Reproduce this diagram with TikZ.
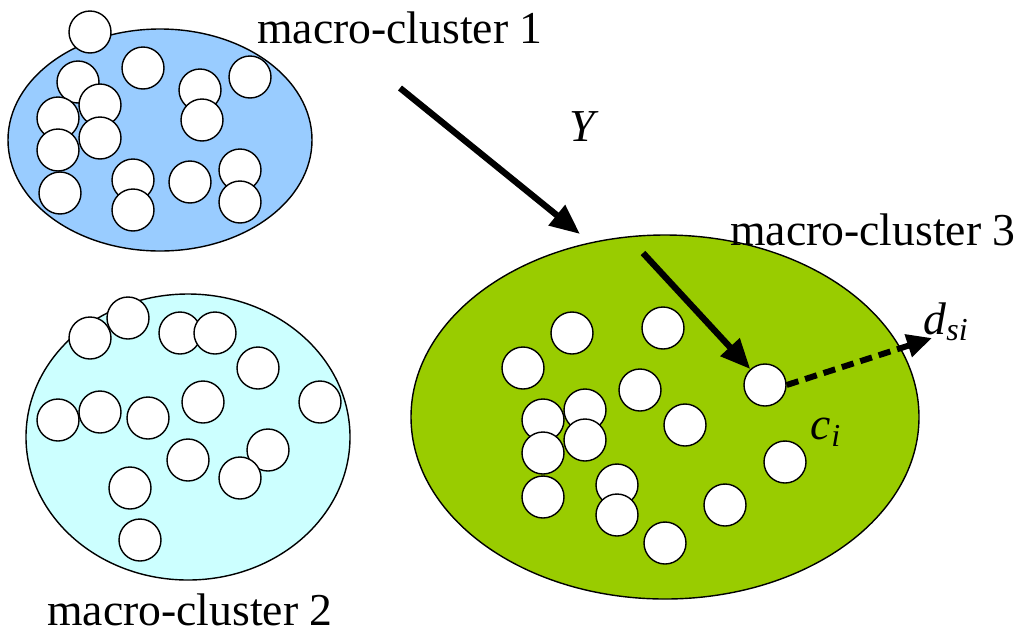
\documentclass[tikz,border=0pt]{standalone}
\usepackage{fontspec}
\setmainfont{Liberation Serif}
\usetikzlibrary{arrows.meta}
\begin{document}
\begin{tikzpicture}[x=0.02cm,y=-0.02cm,
  pt/.style={circle,draw=black,fill=white,line width=0.8pt,minimum size=0.84cm,inner sep=0pt},
  cl/.style={draw=black,line width=0.8pt},
  lbl/.style={font=\fontsize{26}{30}\selectfont,inner sep=0pt},
  big/.style={line width=3.6pt,-{Triangle[length=0.6cm,width=0.5cm]}}]
\useasboundingbox (0,0) rectangle (1024,637);
\definecolor{c1}{RGB}{153,204,255}
\definecolor{c2}{RGB}{204,255,255}
\definecolor{c3}{RGB}{153,204,0}
\fill[c1,cl] (160,140) ellipse [x radius=152, y radius=111];
\fill[c2,cl] (188,437) ellipse [x radius=162, y radius=143];
\fill[c3,cl] (665,417) ellipse [x radius=254, y radius=182];
\foreach \x/\y [count=\i] in {90/32,143/68,250/77,78/82,200/90,100/105,58/118,202/120,100/138,58/150,240/170,190/182,133/180,60/193,133/210,240/202}
  \node[pt] (a\i) at (\x,\y) {};
\foreach \x/\y [count=\i] in {90/338,128/318,180/333,215/333,258/368,58/420,100/412,148/418,203/402,320/402,268/450,188/460,240/478,130/488,140/540}
  \node[pt] (b\i) at (\x,\y) {};
\foreach \x/\y [count=\i] in {663/328,572/333,523/368,640/390,543/420,585/410,585/440,543/453,685/425,543/497,617/485,617/515,725/505,785/462,665/543}
  \node[pt] (e\i) at (\x,\y) {};
\node[pt] (ci) at (765,385) {};
\coordinate (y1) at (400,88);
\coordinate (y2) at (580,234);
\coordinate (z1) at (643,253);
\coordinate (ds) at (932,338);
\draw[big] (y1) -- (y2);
\draw[big] (z1) -- (ci);
\draw[line width=3.4pt,dash pattern=on 7pt off 4pt,-{Triangle[length=0.5cm,width=0.45cm]}] (ci.east) -- (ds);
\node[lbl] (t1) at (400,28) {macro-cluster 1};
\node[lbl] (t2) at (190,610) {macro-cluster 2};
\node[lbl] (t3) at (873,230) {macro-cluster 3};
\node[lbl] (ty) at (582,127) {\itshape Y};
\node[lbl] (td) at (946,322) {\itshape d\textsubscript{si}};
\node[lbl] (tc) at (826,432) {\itshape c\textsubscript{i}};
\end{tikzpicture}
\end{document}
